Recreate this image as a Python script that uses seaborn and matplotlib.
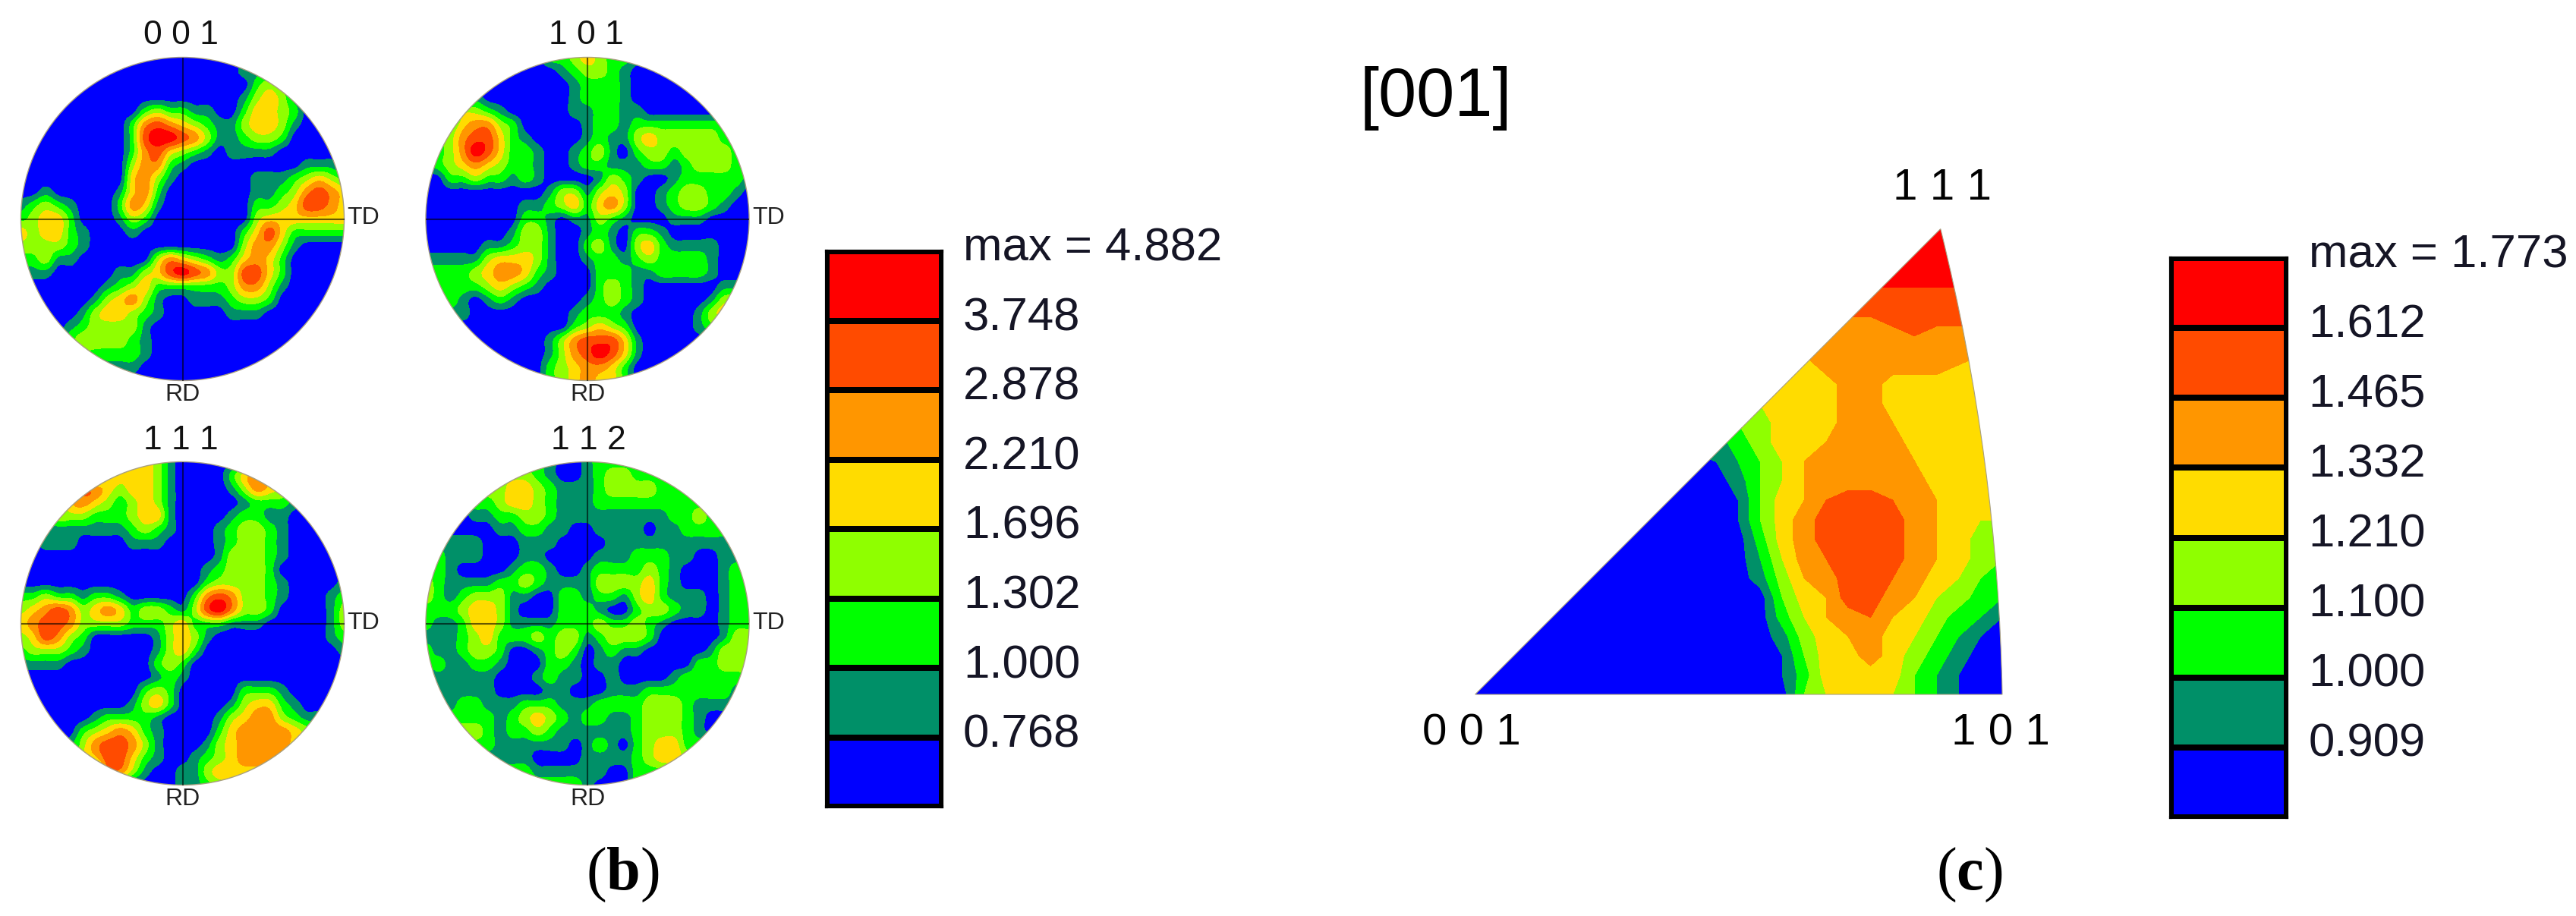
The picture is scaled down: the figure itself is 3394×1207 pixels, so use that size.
import numpy as np
import matplotlib
matplotlib.use("Agg")
import matplotlib.pyplot as plt
import seaborn as sns
from matplotlib.colors import ListedColormap
from matplotlib.patches import Circle, PathPatch
from matplotlib.path import Path

# class colours, low to high
level_colors = ["#0000ff", "#009068", "#00ff00", "#8fff00", "#ffdc00", "#ff9600", "#ff4b00", "#ff0000"]

labels_b = ["max = 4.882", "3.748", "2.878", "2.210", "1.696", "1.302", "1.000", "0.768"]
labels_c = ["max = 1.773", "1.612", "1.465", "1.332", "1.210", "1.100", "1.000", "0.909"]

# density class on a 27x25 grid (top row first)
pf_001 = [
    "000000000000000000000000000", "000000000000000000111111111", "000000000000000000023222222",
    "000000000000000000134310000", "000000000023221100244320000", "000000000256543211344310000",
    "000000000267765311233200000", "000000000256432101111000000", "000000000355210000000001110",
    "000000000453100000011123432", "001000001452000000011235654", "123210002541000000022346654",
    "234420001320000000034444444", "434421000100000000246422222", "333321000000000000355310000",
    "223110000003543212454200000", "111000001134676533664200000", "000000012342222223553100000",
    "000000134531001112332000000", "000001344321000001110000000", "000012333310000000000000000",
    "000023333210000000000000000", "000002222210000000000000000", "000000011100000000000000000",
    "000000000000000000000000000",
]
pf_101 = [
    "000000000022343221000000000", "000000000001233210000000000", "000000000000122210000000000",
    "000010000000122210000000000", "000332100000112211000000000", "002455320000012212222222222",
    "123566421000012113433333222", "123576422100123102332333322", "123454322100122111221233322",
    "002232212100001321001222221", "000000000013313430012332210", "000000001123424530012332100",
    "000000002210113210001110000", "000000013310012102210000000", "000001123310023103421111000",
    "111113444310012212322221000", "222234554210002221122221000", "222223432100002321000000111",
    "222101210000012321000001333", "111100000000122210000013444", "000000000000234320000012222",
    "000000000013566641000000000", "000000000013567641000000000", "000000000023455420000000000",
    "000000000023454420000000000",
]
pf_111 = [
    "000000004443100000000000000", "000000044443100002454000000", "000005543443100001354310000",
    "000045432343100000122210000", "000333222344100001221100000", "001111111232100012332100000",
    "001110000111000012332100000", "000000000000000013332100000", "000000000000000123332000000",
    "000000000000000233332100001", "223221221000002565332100012", "345653454233213675332000013",
    "456653333222342221110000013", "346532000001343100000000012", "233321000001342000000000001",
    "111100000002320000000000000", "000000000001210000000000000", "000000000023200000222100000",
    "000000000134200001344210000", "000000122221000013455321100", "000002345421000024555543222",
    "000013566531000134555543333", "000003466421001234555444444", "000000055310011344444444444",
    "000000000000011233333333333",
]
pf_112 = [
    "222222222210012222222222222", "333333333210012332222222222", "333333344321112333322222222",
    "222222344321112222222222222", "000011223321111111112232222", "000000112211001111011222222",
    "111110001110000111111111111", "221110001100001112221100111", "221000012210012222321000122",
    "321111223211113333421000122", "321233311002212213421110122", "222344310002221002332110122",
    "211244311112223223210000122", "111234222323312333200000133", "211233200123201211000001333",
    "121122100022101100000022333", "111111000121100100001222222", "111111000011000111222222211",
    "111221112221112222333211111", "222222123432122112333210000", "333332122321111112333210000",
    "222222111111012102344222222", "111111111000011112344333333", "222222222111111002222222222",
    "222222222222210002222222222",
]

# inverse pole figure, half-class steps in hex on a 25x25 grid
ipf_grid = [
    "eeeeeeeeeeeeeeeeeeeeeeeee", "eeeeeeeeeeeeeeeeeeeeeeeee", "eeeeeeeeeeeeeeeeeeeeeeeee",
    "ddddddddddddddddddddddddd", "ccccccccccccccccccccccccc", "aaaaaaaaaaaaaaaaaaabcbbbb",
    "aaaaaaaaaaaaaaaaaaaaaaaaa", "8888888888888888aaaaaa988", "88888888888888888aa888888",
    "77777777777777888aa888888", "55555555555556888aa988888", "22222222222246889aaa88888",
    "0000000000013579aaaa98888", "0000000000002579aaaaa8888", "0000000000001589bccba9888",
    "000000000000158acccca9877", "000000000000048acccca9866", "000000000000037abccca9865",
    "0000000000000269accba8754", "00000000000000589cca97643", "00000000000000479ab986431",
    "000000000000002689a875310", "000000000000001588a864200", "0000000000000014888853100",
    "0000000000000005788753100",
]

W, H = 3394, 1207


def px_axes(x0, y0, x1, y1):
    return fig.add_axes([x0 / W, 1 - y1 / H, (x1 - x0) / W, (y1 - y0) / H])


def cubic_row(v, n):
    # Catmull-Rom between grid points
    p = np.concatenate(([v[0]], v, [v[-1]]))
    t = np.arange(n) / n
    out = []
    for i in range(len(v) - 1):
        a, b, c, d = p[i], p[i + 1], p[i + 2], p[i + 3]
        out.append(b + 0.5 * t * (c - a + t * (2 * a - 5 * b + 4 * c - d + t * (3 * (b - c) + d - a))))
    out.append([v[-1]])
    return np.concatenate(out)


def upsample(grid, n=6):
    out = np.array([cubic_row(r, n) for r in grid])
    out = np.array([cubic_row(c, n) for c in out.T]).T
    # light smoothing so the bands look round
    k = np.ones(3) / 3
    p = np.pad(out, 1, mode="edge")
    p = np.apply_along_axis(lambda v: np.convolve(v, k, mode="same"), 0, p)
    p = np.apply_along_axis(lambda v: np.convolve(v, k, mode="same"), 1, p)
    return p[1:-1, 1:-1]


def draw_bands(ax, x, y, z, clip):
    cs = ax.contourf(x, y, z, levels=np.arange(-0.5, 8), colors=level_colors, extend="both")
    cs.cmap.set_under(level_colors[0])
    cs.cmap.set_over(level_colors[-1])
    cs.changed()
    cs.set_edgecolor("face")
    cs.set_linewidth(0.6)
    cs.set_clip_path(clip)


def pole_figure(rows, cx, cy, r):
    ax = px_axes(cx - r, cy - r, cx + r, cy + r)
    z = upsample(np.array([[int(c) for c in row] for row in rows], dtype=float))
    x = np.linspace(-1, 1, z.shape[1])
    y = np.linspace(1, -1, z.shape[0])
    ax.set_xlim(-1, 1)
    ax.set_ylim(-1, 1)
    ax.axis("off")
    clip = Circle((0, 0), 1, transform=ax.transData)
    draw_bands(ax, x, y[::-1], np.clip(z[::-1], 0, 7.4), clip)
    ax.add_patch(Circle((0, 0), 1, fc="none", ec="#a89f80", lw=1, clip_on=False))
    ax.plot([-1, 1], [0, 0], color="black", alpha=0.6, lw=1.5)
    ax.plot([0, 0], [-1, 1], color="black", alpha=0.6, lw=1.5)


def legend_bar(x0, y0, x1, y1):
    ax = px_axes(x0, y0, x1, y1)
    ranks = np.arange(len(level_colors))[::-1].reshape(-1, 1)
    sns.heatmap(ranks, ax=ax, cmap=ListedColormap(level_colors), vmin=-0.5, vmax=7.5, cbar=False,
                linewidths=5.5, linecolor="black", xticklabels=False, yticklabels=False)
    for spine in ax.spines.values():
        spine.set_visible(True)
        spine.set_linewidth(3)
        spine.set_color("black")


sns.set_theme(style="white")
plt.rcParams["font.family"] = ["Liberation Sans", "DejaVu Sans"]
plt.rcParams["mathtext.fontset"] = "custom"
plt.rcParams["mathtext.bf"] = "Liberation Serif:bold"
plt.rcParams["mathtext.rm"] = "Liberation Serif"

fig = plt.figure(figsize=(W / 100, H / 100), dpi=100)

pole_figure(pf_001, 240.5, 288.5, 213)
pole_figure(pf_101, 774, 288.5, 213)
pole_figure(pf_111, 240.5, 821.5, 213)
pole_figure(pf_112, 774, 821.5, 213)

legend_bar(1089, 331, 1241, 1063)
legend_bar(2860, 340, 3013, 1077)

# inverse pole figure triangle
ax_t = px_axes(1943.6, 301.6, 2638, 915)
ax_t.set_xlim(0, 1)
ax_t.set_ylim(0, 1)
ax_t.axis("off")
z_t = np.array([[int(c, 16) / 2 for c in row] for row in ipf_grid])
tri = Path([(0, 0), (0.883, 1), (0.992, 0.5), (1, 0), (0, 0)],
           [Path.MOVETO, Path.LINETO, Path.CURVE3, Path.CURVE3, Path.CLOSEPOLY])
draw_bands(ax_t, np.linspace(0, 1, 25), np.linspace(0, 1, 25), z_t[::-1],
           PathPatch(tri, transform=ax_t.transData))
ax_t.add_patch(PathPatch(tri, fc="none", ec="#a89f80", lw=0.8, clip_on=False))

# all text sits on one overlay in pixel coordinates
ov = fig.add_axes([0, 0, 1, 1], facecolor="none")
ov.set_xlim(0, W)
ov.set_ylim(H, 0)
ov.axis("off")

for txt, x, y in [("0 0 1", 238, 47), ("1 0 1", 772, 47), ("1 1 1", 238, 581), ("1 1 2", 775, 581)]:
    ov.text(x, y, txt, fontsize=32, ha="center", va="center", color="#111111")
for x, y in [(457, 287), (991, 287), (457, 821), (991, 821)]:
    ov.text(x, y, "TD", fontsize=23, ha="left", va="center", color="#222222")
for x, y in [(240, 520), (774, 520), (240, 1053), (774, 1053)]:
    ov.text(x, y, "RD", fontsize=23, ha="center", va="center", color="#222222")

for i, txt in enumerate(labels_b):
    ov.text(1269, 328 + 91.6 * i, txt, fontsize=44.5, ha="left", va="center", color="#151525")
for i, txt in enumerate(labels_c):
    ov.text(3041.5, 337 + 92 * i, txt, fontsize=44.5, ha="left", va="center", color="#151525")

for txt, x, y in [("1 1 1", 2559, 248), ("0 0 1", 1939, 967), ("1 0 1", 2636, 967)]:
    ov.text(x, y, txt, fontsize=42, ha="center", va="center", color="black")

ov.text(1892, 130, "[001]", fontsize=65, ha="center", va="center", color="black")
ov.text(820, 1153, r"($\mathbf{b}$)", fontsize=58, ha="center", va="center", color="black",
        family="Liberation Serif")
ov.text(2595, 1153, r"($\mathbf{c}$)", fontsize=58, ha="center", va="center", color="black",
        family="Liberation Serif")

fig.savefig("out.png", dpi=100)
